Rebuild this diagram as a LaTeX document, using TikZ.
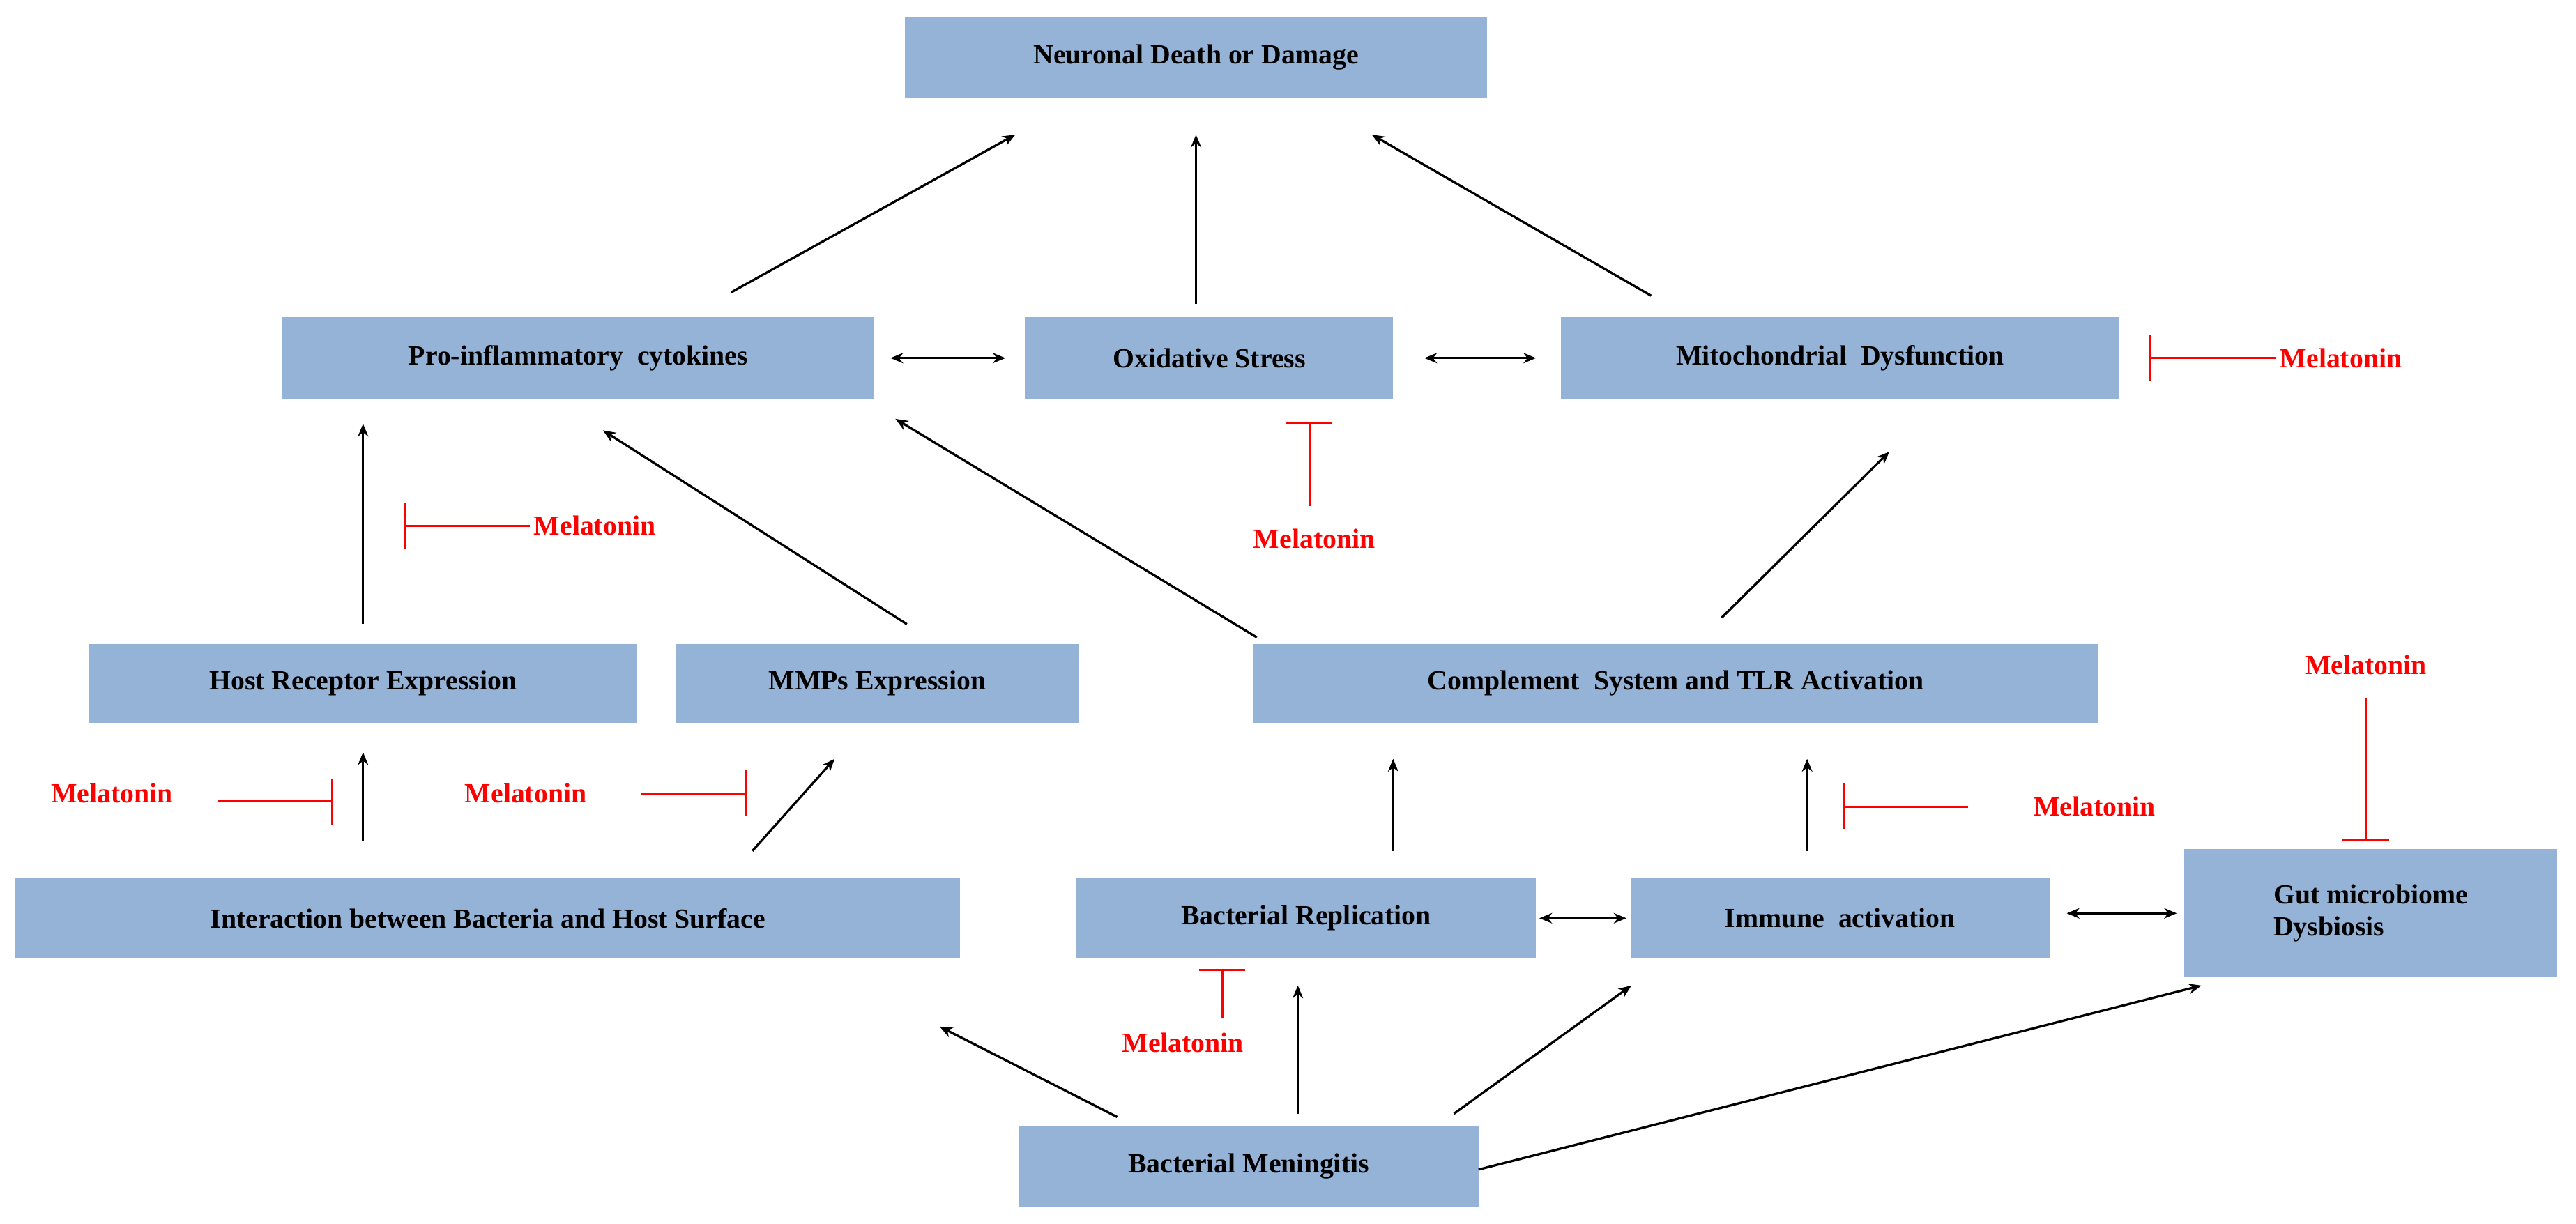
\documentclass[tikz,border=0pt]{standalone}
\usepackage{fontspec}
\setmainfont{Liberation Serif}
\usetikzlibrary{arrows.meta}
\definecolor{boxc}{HTML}{95B3D7}
\begin{document}
\begin{tikzpicture}[x=0.05cm,y=-0.05cm,
 box/.style={fill=boxc,inner sep=0pt,font=\fontsize{24}{28}\selectfont\bfseries,align=center},
 ar/.style={line width=2pt,-{Stealth[length=11pt,width=9pt]}},
 dar/.style={line width=2pt,{Stealth[length=11pt,width=9pt]}-{Stealth[length=11pt,width=9pt]}},
 inh/.style={line width=1.8pt,red,-{Bar[width=40pt]}},
 mel/.style={red,font=\fontsize{24}{28}\selectfont\bfseries}]
\useasboundingbox (0,0) rectangle (1568,745);
\node[box,minimum width=354*0.05cm,minimum height=50*0.05cm] (nd) at (728,35) {Neuronal Death or Damage};
\node[box,minimum width=360*0.05cm,minimum height=50*0.05cm] (pro) at (352,218) {Pro-inflammatory\ \ cytokines};
\node[box,minimum width=224*0.05cm,minimum height=50*0.05cm] (ox) at (736,218) {Oxidative Stress};
\node[box,minimum width=340*0.05cm,minimum height=50*0.05cm] (mito) at (1120,218) {Mitochondrial\ \ Dysfunction};
\node[box,minimum width=333*0.05cm,minimum height=48*0.05cm] (host) at (221,416) {Host Receptor Expression};
\node[box,minimum width=246*0.05cm,minimum height=48*0.05cm] (mmp) at (534,416) {MMPs Expression};
\node[box,minimum width=515*0.05cm,minimum height=48*0.05cm] (comp) at (1020,416) {Complement\ \ System and TLR Activation};
\node[box,minimum width=575*0.05cm,minimum height=49*0.05cm] (inter) at (297,559) {Interaction\ between Bacteria and Host Surface};
\node[box,minimum width=280*0.05cm,minimum height=49*0.05cm] (rep) at (795,559) {Bacterial Replication};
\node[box,minimum width=255*0.05cm,minimum height=49*0.05cm] (imm) at (1120,559) {Immune\ \ activation};
\node[box,minimum width=227*0.05cm,minimum height=78*0.05cm,align=left] (gut) at (1443,556) {Gut microbiome\\Dysbiosis};
\node[box,minimum width=280*0.05cm,minimum height=49*0.05cm] (bm) at (760,710) {Bacterial Meningitis};
% arrows
\coordinate (c1) at (445,178); \coordinate (c2) at (618,82);
\draw[ar] (c1) -- (c2);
\draw[ar] (728,185) -- (728,82);
\draw[ar] (1005,180) -- (835,82);
\draw[dar] (542,218) -- (612,218);
\draw[dar] (867,218) -- (935,218);
\draw[ar] (221,380) -- (221,258);
\draw[ar] (552,380) -- (367,262);
\draw[ar] (765,388) -- (545,255);
\draw[ar] (1048,376) -- (1150,275);
\draw[ar] (221,512) -- (221,458);
\draw[ar] (458,518) -- (508,462);
\draw[ar] (848,518) -- (848,462);
\draw[ar] (1100,518) -- (1100,462);
\draw[dar] (937,559) -- (990,559);
\draw[dar] (1258,556) -- (1325,556);
\draw[ar] (680,680) -- (572,625);
\draw[ar] (790,678) -- (790,600);
\draw[ar] (885,678) -- (993,600);
\draw[ar] (900,712) -- (1340,600);
% inhibitors
\node[mel] (m1) at (1425,218) {Melatonin};
\draw[inh] (m1.west) -- (1308,218);
\node[mel] (m2) at (800,328) {Melatonin};
\draw[inh] (797,308) -- (797,257);
\node[mel] (m3) at (362,320) {Melatonin};
\draw[inh] (m3.west) -- (246,320);
\node[mel] (m4) at (68,483) {Melatonin};
\draw[inh] (133,488) -- (203,488);
\node[mel] (m5) at (320,483) {Melatonin};
\draw[inh] (390,483) -- (455,483);
\node[mel] (m6) at (1275,491) {Melatonin};
\draw[inh] (1198,491) -- (1122,491);
\node[mel] (m7) at (1440,405) {Melatonin};
\draw[inh] (1440,425) -- (1440,512);
\node[mel] (m8) at (720,635) {Melatonin};
\draw[inh] (744,620) -- (744,590);
\end{tikzpicture}
\end{document}
